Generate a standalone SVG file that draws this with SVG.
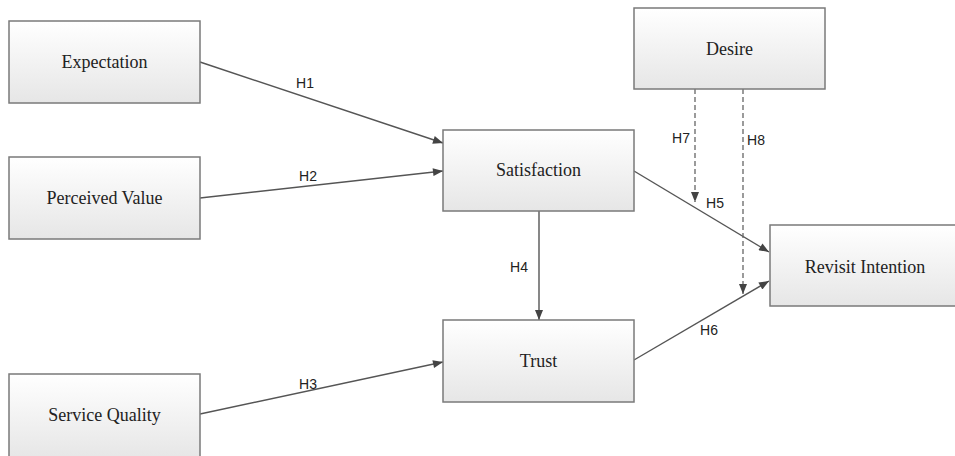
<svg xmlns="http://www.w3.org/2000/svg" width="955" height="456" viewBox="0 0 955 456">
<style>
.box{fill:url(#g);stroke:#7a7a7a;stroke-width:1.5}
.nt{font-family:"Liberation Serif","Times New Roman",serif;font-size:18px;fill:#222;text-anchor:middle}
.lb{font-family:"Liberation Sans",Arial,sans-serif;font-size:14px;fill:#222;text-anchor:middle}
.ln{stroke:#555;stroke-width:1.4;fill:none}
.ds{stroke:#666;stroke-width:1.3;fill:none;stroke-dasharray:5,3}
</style>
<defs>
<linearGradient id="g" x1="0" y1="0" x2="0" y2="1">
<stop offset="0" stop-color="#ffffff"/>
<stop offset="1" stop-color="#e6e6e6"/>
</linearGradient>
<marker id="a" viewBox="0 0 10 8" refX="10" refY="4" markerWidth="11" markerHeight="8" markerUnits="userSpaceOnUse" orient="auto">
<path d="M0,0 L10,4 L0,8 Z" fill="#444"/>
</marker>
</defs>
<rect width="955" height="456" fill="#fff"/>
<g id="connectors">
<line class="ln" x1="200" y1="62" x2="443" y2="143" marker-end="url(#a)"/>
<line class="ln" x1="200" y1="198" x2="443" y2="171" marker-end="url(#a)"/>
<line class="ln" x1="200" y1="414" x2="443" y2="362" marker-end="url(#a)"/>
<line class="ln" x1="539" y1="211" x2="539" y2="320" marker-end="url(#a)"/>
<line class="ln" x1="634" y1="171" x2="769" y2="252" marker-end="url(#a)"/>
<line class="ln" x1="634" y1="360" x2="769" y2="281" marker-end="url(#a)"/>
<line class="ds" x1="695" y1="89" x2="695" y2="202" marker-end="url(#a)"/>
<line class="ds" x1="743" y1="89" x2="743" y2="294" marker-end="url(#a)"/>
<text class="lb" x="305" y="88">H1</text>
<text class="lb" x="308" y="181">H2</text>
<text class="lb" x="308" y="389">H3</text>
<text class="lb" x="519" y="272">H4</text>
<text class="lb" x="715" y="208">H5</text>
<text class="lb" x="709" y="335">H6</text>
<text class="lb" x="681" y="143">H7</text>
<text class="lb" x="756" y="145">H8</text>
</g>
<g id="expectation"><rect class="box" x="9" y="21" width="191" height="82"/><text class="nt" x="104.5" y="68">Expectation</text></g>
<g id="perceived-value"><rect class="box" x="9" y="157" width="191" height="82"/><text class="nt" x="104.5" y="204">Perceived Value</text></g>
<g id="service-quality"><rect class="box" x="9" y="374" width="191" height="85"/><text class="nt" x="104.5" y="421">Service Quality</text></g>
<g id="satisfaction"><rect class="box" x="443" y="130" width="191" height="81"/><text class="nt" x="538.5" y="176">Satisfaction</text></g>
<g id="trust"><rect class="box" x="443" y="320" width="191" height="82"/><text class="nt" x="538.5" y="367">Trust</text></g>
<g id="desire"><rect class="box" x="634" y="8" width="191" height="81"/><text class="nt" x="729.5" y="55">Desire</text></g>
<g id="revisit-intention"><rect class="box" x="770" y="225" width="192" height="81"/><text class="nt" x="865" y="273">Revisit Intention</text></g>
</svg>
